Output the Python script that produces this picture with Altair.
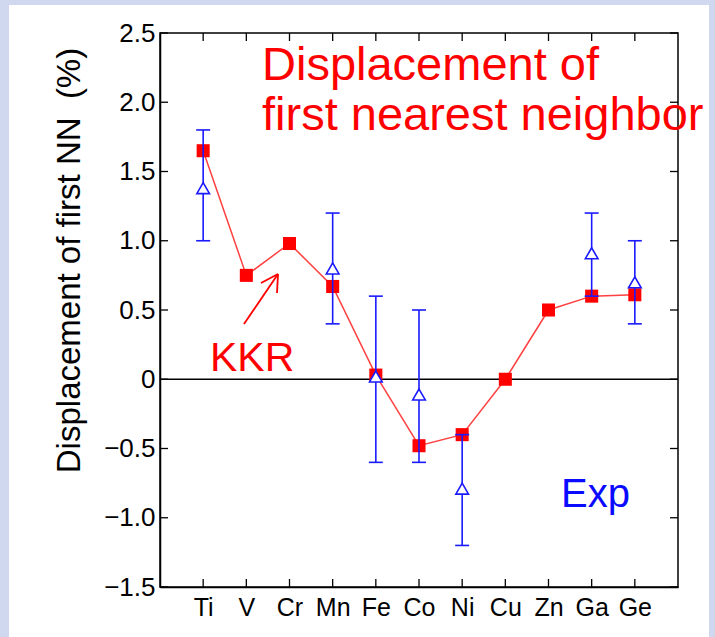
import altair as alt
import pandas as pd

# ---- data ----
elements = ["Ti", "V", "Cr", "Mn", "Fe", "Co", "Ni", "Cu", "Zn", "Ga", "Ge"]
kkr_values = [1.65, 0.75, 0.98, 0.67, 0.03, -0.48, -0.40, 0.0, 0.50, 0.60, 0.61]

exp_elements = ["Ti", "Mn", "Fe", "Co", "Ni", "Ga", "Ge"]
exp_values = [1.38, 0.80, 0.02, -0.11, -0.79, 0.91, 0.70]
exp_low = [1.0, 0.4, -0.6, -0.6, -1.2, 0.6, 0.4]
exp_high = [1.8, 1.2, 0.6, 0.5, -0.4, 1.2, 1.0]

y_ticks = [-1.5, -1.0, -0.5, 0.0, 0.5, 1.0, 1.5, 2.0, 2.5]

W, H = 518, 554
FONT = "Liberation Sans"

kkr_df = pd.DataFrame({"element": elements, "value": kkr_values})
exp_df = pd.DataFrame({"element": exp_elements, "value": exp_values,
                       "low": exp_low, "high": exp_high})
yt_df = pd.DataFrame({"v": y_ticks})
xt_df = pd.DataFrame({"element": elements})
one = pd.DataFrame({"a": [0]})

xscale = alt.Scale(type="point", domain=elements, padding=1)
yscale = alt.Scale(domain=[-1.5, 2.5], nice=False, zero=False)

X = alt.X("element:N", scale=xscale, sort=elements,
          axis=alt.Axis(title=None, labelAngle=0, ticks=False, labelFontSize=25,
                        labelPadding=8, domainColor="black", domainWidth=1.5,
                        labelFont=FONT, labelColor="black", zindex=1))
Yaxis = alt.Axis(values=y_ticks, ticks=False, grid=False, labelFontSize=26,
                 labelFont=FONT, labelColor="black", labelPadding=5,
                 domainColor="black", domainWidth=1.5, zindex=1,
                 labelExpr="datum.value == 0 ? '0' : format(datum.value, '.1f')",
                 title="Displacement of first NN\u00a0\u00a0(%)", titleFont=FONT,
                 titleFontSize=33, titleFontWeight="normal", titleColor="black",
                 titleX=-81, titleY=227, titleAngle=270, titleAlign="center",
                 titleBaseline="alphabetic")

panel = alt.Chart(one).mark_rect(color="white").encode(
    x=alt.value(-151), x2=alt.value(549), y=alt.value(-28), y2=alt.value(604))

frame = alt.Chart(one).mark_rect(fill=None, stroke="black", strokeWidth=1.5,
                                 fillOpacity=0).encode(
    x=alt.value(0), x2=alt.value(W), y=alt.value(0), y2=alt.value(H))

zero_line = alt.Chart(pd.DataFrame({"v": [0.0]})).mark_rule(
    color="black", strokeWidth=1.5).encode(
    y=alt.Y("v:Q", scale=yscale, axis=Yaxis), x=alt.value(0), x2=alt.value(W))

yt_left = alt.Chart(yt_df).mark_rule(color="black", strokeWidth=1.3).encode(
    y=alt.Y("v:Q", scale=yscale), x=alt.value(0), x2=alt.value(8))
yt_right = alt.Chart(yt_df).mark_rule(color="black", strokeWidth=1.3).encode(
    y=alt.Y("v:Q", scale=yscale), x=alt.value(W - 8), x2=alt.value(W))
xt_bottom = alt.Chart(xt_df).mark_rule(color="black", strokeWidth=1.3).encode(
    x=X, y=alt.value(H), y2=alt.value(H - 8))
xt_top = alt.Chart(xt_df).mark_rule(color="black", strokeWidth=1.3).encode(
    x=alt.X("element:N", scale=xscale, sort=elements), y=alt.value(0), y2=alt.value(8))

xe = alt.X("element:N", scale=xscale, sort=elements)

kkr_line = alt.Chart(kkr_df).mark_line(color="#ff4040", strokeWidth=1.5).encode(
    x=xe, y=alt.Y("value:Q", scale=yscale))
kkr_pts = alt.Chart(kkr_df).mark_point(shape="square", filled=True, color="#ff0000",
                                       size=170, opacity=1).encode(
    x=xe, y=alt.Y("value:Q", scale=yscale))

blue = "#1a1aff"
err = alt.Chart(exp_df).mark_rule(color=blue, strokeWidth=1.6).encode(
    x=xe, y=alt.Y("low:Q", scale=yscale), y2="high:Q")
cap_lo = alt.Chart(exp_df).mark_tick(color=blue, thickness=1.6, size=14,
                                     orient="horizontal", opacity=1).encode(
    x=xe, y=alt.Y("low:Q", scale=yscale))
cap_hi = alt.Chart(exp_df).mark_tick(color=blue, thickness=1.6, size=14,
                                     orient="horizontal", opacity=1).encode(
    x=xe, y=alt.Y("high:Q", scale=yscale))
exp_pts = alt.Chart(exp_df).mark_point(shape="triangle-up", filled=False, fill="white",
                                       fillOpacity=1, color=blue, size=160,
                                       strokeWidth=1.6, opacity=1).encode(
    x=xe, y=alt.Y("value:Q", scale=yscale))

title_txt = alt.Chart(one).mark_text(
    text=["Displacement of", "first nearest neighbor"], font=FONT, fontSize=47,
    color="#ff0000", align="left", baseline="alphabetic", lineHeight=50).encode(
    x=alt.value(102), y=alt.value(47))
kkr_txt = alt.Chart(one).mark_text(
    text="KKR", font=FONT, fontSize=41, color="#ff0000", align="left",
    baseline="alphabetic").encode(x=alt.value(50), y=alt.value(338))
exp_txt = alt.Chart(one).mark_text(
    text="Exp", font=FONT, fontSize=40, color="#0a0aff", align="left",
    baseline="alphabetic").encode(x=alt.value(401), y=alt.value(474))

arrow_shaft = alt.Chart(one).mark_rule(color="#ff0000", strokeWidth=1.8).encode(
    x=alt.value(84), y=alt.value(291), x2=alt.value(118), y2=alt.value(241))
arrow_w1 = alt.Chart(one).mark_rule(color="#ff0000", strokeWidth=1.8).encode(
    x=alt.value(118), y=alt.value(241), x2=alt.value(101), y2=alt.value(250))
arrow_w2 = alt.Chart(one).mark_rule(color="#ff0000", strokeWidth=1.8).encode(
    x=alt.value(118), y=alt.value(241), x2=alt.value(117), y2=alt.value(260))

chart = alt.layer(
    panel, frame, zero_line, yt_left, yt_right, xt_bottom, xt_top,
    kkr_line, kkr_pts, err, cap_lo, cap_hi, exp_pts,
    title_txt, kkr_txt, exp_txt, arrow_shaft, arrow_w1, arrow_w2
).properties(
    width=W, height=H,
    autosize=alt.AutoSizeParams(type="none"),
    padding={"left": 160, "top": 33, "right": 37, "bottom": 50},
    background="#cfd8ee",
).configure_view(stroke=None)

chart.save("out.html", embed_options={"renderer": "svg", "actions": False})
